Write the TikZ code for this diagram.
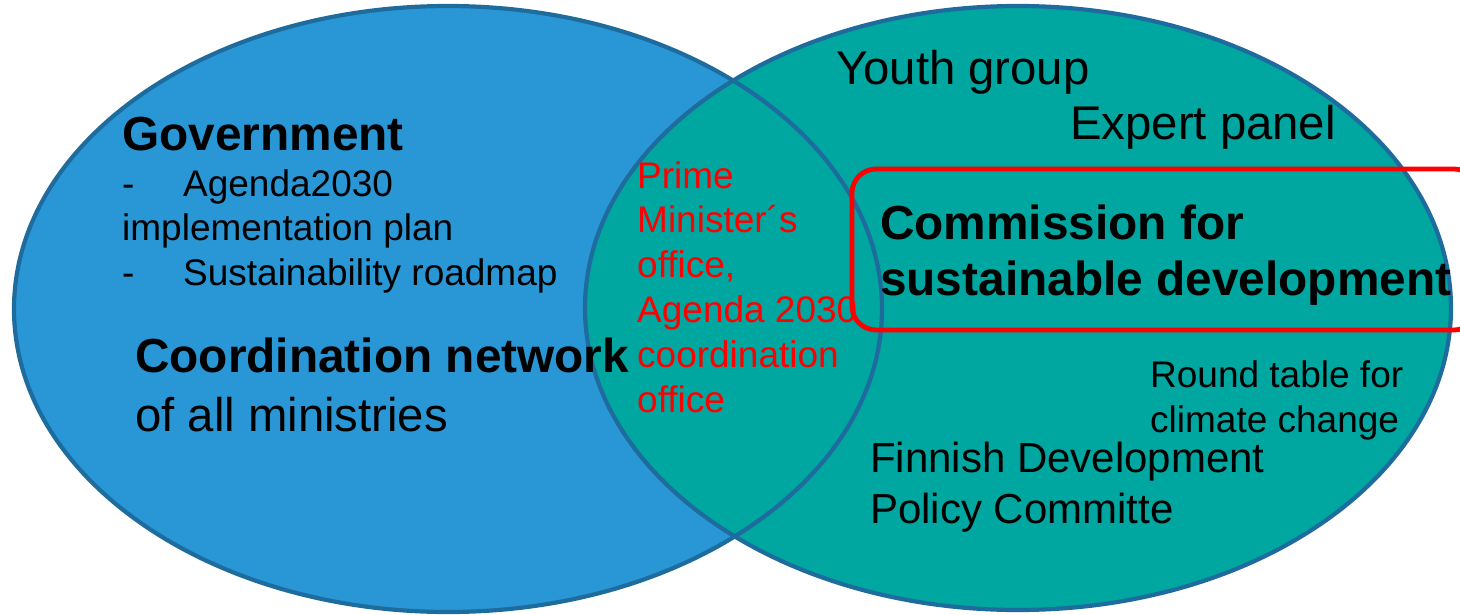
\documentclass[tikz,border=0pt]{standalone}
\usepackage{fontspec}
\setmainfont{Liberation Sans}
\definecolor{govblue}{RGB}{41,151,213}
\definecolor{partnerteal}{RGB}{0,166,160}
\definecolor{rimblue}{RGB}{30,108,158}

\begin{document}
\begin{tikzpicture}[x=1pt, y=-1pt,
  rim/.style={draw=rimblue, line width=4.2pt},
  lefttext/.style={anchor=base west, align=left, inner sep=0pt},
  bigbold/.style={lefttext, font=\fontsize{47.8}{56}\selectfont\bfseries},
  bigtxt/.style={lefttext, font=\fontsize{47.3}{56}\selectfont},
  smalltxt/.style={lefttext, font=\fontsize{37}{44.8}\selectfont}]
\useasboundingbox (0,0) rectangle (1460,615);

\fill[govblue] (448,309) ellipse [x radius=434, y radius=303];
\fill[partnerteal] (1018,308) ellipse [x radius=433, y radius=302];
\draw[rim] (448,309) ellipse [x radius=434, y radius=303];
\draw[rim] (1018,308) ellipse [x radius=433, y radius=302];

\draw[red, line width=4.8pt, rounded corners=24pt] (852,169) rectangle (1478,330);

% government side (base = last line)
\node[bigbold] (govtitle) at (122,151) {Government};
\node[smalltxt, font=\fontsize{37}{44.5}\selectfont] (govlist) at (122,285) {\makebox[61pt][l]{-}Agenda2030\\implementation plan\\\makebox[61pt][l]{-}Sustainability roadmap};
\node[bigbold] (coordnet) at (135,372) {Coordination network};
\node[bigtxt] (ministries) at (135,431) {of all ministries};

% overlap
\node[smalltxt, text=red] (pmo) at (637,412) {Prime\\Minister´s\\office,\\Agenda 2030\\coordination\\office};

% partner side
\node[bigtxt] (youth) at (836,85) {Youth group};
\node[bigtxt] (experts) at (1070,140) {Expert panel};
\node[bigbold] (commission) at (880,295) {Commission for\\sustainable development};
\node[smalltxt, font=\fontsize{37}{45}\selectfont] (roundtable) at (1150,432) {Round table for\\climate change};
\node[lefttext, font=\fontsize{42}{51}\selectfont] (devpolicy) at (870,523) {Finnish Development\\Policy Committe};
\end{tikzpicture}
\end{document}
